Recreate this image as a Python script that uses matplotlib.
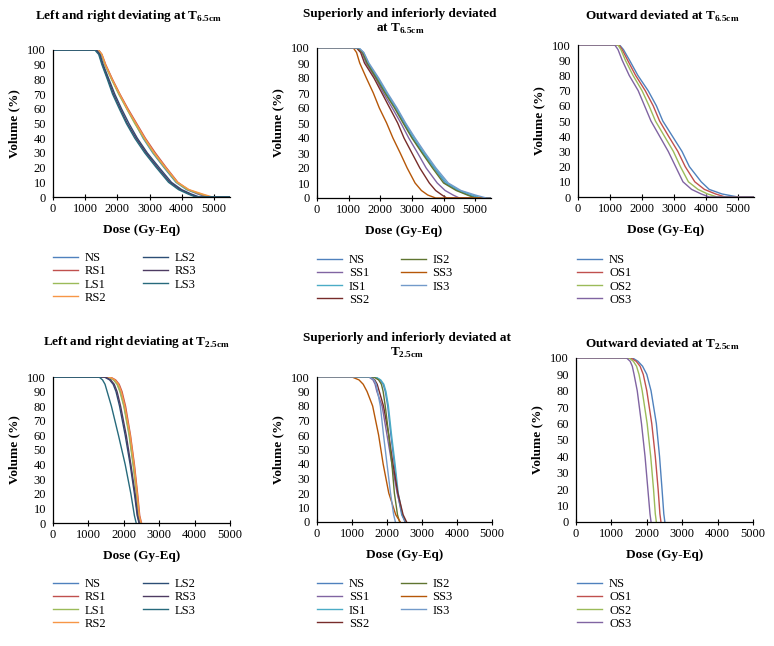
import numpy as np
import matplotlib
matplotlib.use("Agg")
import matplotlib.pyplot as plt

plt.rcParams['font.family'] = ['Liberation Serif', 'DejaVu Serif']
plt.rcParams['mathtext.fontset'] = 'custom'
plt.rcParams['mathtext.rm'] = 'Liberation Serif'
plt.rcParams['mathtext.bf'] = 'Liberation Serif:bold'

# Térfogat szintek (%)
vol_t65 = [100, 100, 97, 90, 80, 70, 60, 50, 40, 30, 20, 10, 5, 2, 0, 0]
vol_t25 = [100, 100, 98, 95, 90, 80, 60, 40, 20, 5, 0]

# Bal / jobb eltérés, T6.5cm
lr65_labels = ["NS", "RS1", "LS1", "RS2", "LS2", "RS3", "LS3"]
lr65_NS  = [0, 1400, 1500, 1620, 1830, 2060, 2300, 2560, 2800, 3100, 3450, 3820, 4150, 4500, 4750, 5500]
lr65_RS1 = [0, 1420, 1520, 1640, 1850, 2080, 2330, 2600, 2870, 3180, 3520, 3880, 4200, 4550, 4850, 5500]
lr65_LS1 = [0, 1400, 1510, 1610, 1820, 2040, 2290, 2540, 2820, 3120, 3470, 3840, 4180, 4600, 4900, 5500]
lr65_RS2 = [0, 1410, 1520, 1630, 1840, 2070, 2310, 2580, 2850, 3150, 3500, 3870, 4230, 4650, 4950, 5500]
lr65_LS2 = [0, 1350, 1460, 1560, 1740, 1920, 2130, 2360, 2620, 2930, 3300, 3680, 4000, 4300, 4550, 5500]
lr65_RS3 = [0, 1330, 1440, 1540, 1710, 1880, 2090, 2310, 2580, 2890, 3250, 3630, 3950, 4250, 4480, 5500]
lr65_LS3 = [0, 1300, 1420, 1520, 1690, 1850, 2060, 2280, 2540, 2850, 3210, 3590, 3900, 4200, 4430, 5500]

# Felső / alsó eltérés, T6.5cm
si65_labels = ["NS", "SS1", "IS1", "SS2", "IS2", "SS3", "IS3"]
si65_NS  = [0, 1300, 1450, 1600, 1900, 2180, 2480, 2750, 3020, 3350, 3700, 4050, 4450, 4800, 5100, 5500]
si65_SS1 = [0, 1280, 1420, 1550, 1850, 2100, 2380, 2650, 2900, 3180, 3450, 3800, 4050, 4300, 4500, 5500]
si65_IS1 = [0, 1320, 1470, 1620, 1920, 2200, 2500, 2780, 3060, 3380, 3720, 4100, 4500, 4900, 5200, 5500]
si65_SS2 = [0, 1250, 1380, 1500, 1800, 2050, 2300, 2550, 2750, 3000, 3250, 3550, 3750, 3950, 4100, 5500]
si65_IS2 = [0, 1300, 1440, 1580, 1870, 2150, 2450, 2720, 3000, 3320, 3650, 4000, 4400, 4750, 5000, 5500]
si65_SS3 = [0, 1150, 1250, 1350, 1560, 1780, 1970, 2200, 2400, 2630, 2850, 3100, 3300, 3500, 3750, 5500]
si65_IS3 = [0, 1330, 1480, 1640, 1950, 2230, 2530, 2800, 3100, 3420, 3760, 4150, 4550, 5000, 5350, 5500]

# Kifelé eltérés, T6.5cm
out65_labels = ["NS", "OS1", "OS2", "OS3"]
out65_NS  = [0, 1300, 1420, 1610, 1870, 2190, 2450, 2650, 2950, 3250, 3480, 3850, 4100, 4500, 5000, 5500]
out65_OS1 = [0, 1280, 1380, 1550, 1800, 2100, 2350, 2550, 2830, 3120, 3350, 3650, 3950, 4300, 4600, 5500]
out65_OS2 = [0, 1250, 1340, 1480, 1720, 2000, 2220, 2420, 2700, 2980, 3200, 3450, 3750, 4050, 4350, 5500]
out65_OS3 = [0, 1150, 1250, 1380, 1600, 1880, 2080, 2280, 2550, 2820, 3050, 3280, 3550, 3850, 4100, 5500]

# Bal / jobb eltérés, T2.5cm
lr25_NS  = [0, 1580, 1720, 1820, 1900, 2010, 2160, 2270, 2370, 2430, 2480]
lr25_RS1 = [0, 1620, 1770, 1870, 1950, 2050, 2190, 2300, 2390, 2450, 2500]
lr25_LS1 = [0, 1570, 1710, 1810, 1890, 2000, 2150, 2260, 2360, 2420, 2470]
lr25_RS2 = [0, 1600, 1750, 1850, 1930, 2030, 2180, 2290, 2380, 2440, 2490]
lr25_LS2 = [0, 1450, 1600, 1700, 1780, 1880, 2040, 2180, 2300, 2380, 2430]
lr25_RS3 = [0, 1480, 1630, 1730, 1810, 1910, 2070, 2200, 2320, 2390, 2440]
lr25_LS3 = [0, 1300, 1400, 1470, 1530, 1650, 1850, 2040, 2200, 2300, 2350]

# Felső / alsó eltérés, T2.5cm
si25_NS  = [0, 1660, 1800, 1890, 1950, 2020, 2110, 2210, 2300, 2420, 2520]
si25_SS1 = [0, 1480, 1600, 1660, 1710, 1860, 2000, 2140, 2290, 2440, 2520]
si25_IS1 = [0, 1680, 1820, 1910, 1970, 2040, 2130, 2230, 2320, 2440, 2540]
si25_SS2 = [0, 1520, 1650, 1720, 1780, 1900, 2050, 2170, 2310, 2460, 2560]
si25_IS2 = [0, 1620, 1760, 1840, 1890, 1950, 2050, 2140, 2210, 2300, 2360]
si25_SS3 = [0, 1000, 1200, 1320, 1430, 1590, 1760, 1890, 2050, 2250, 2380]
si25_IS3 = [0, 1500, 1630, 1690, 1730, 1810, 1900, 2000, 2100, 2190, 2240]

# Kifelé eltérés, T2.5cm
out25_NS  = [0, 1600, 1750, 1880, 2000, 2120, 2270, 2360, 2430, 2480, 2510]
out25_OS1 = [0, 1550, 1700, 1810, 1900, 2000, 2140, 2240, 2320, 2370, 2400]
out25_OS2 = [0, 1500, 1620, 1710, 1780, 1870, 2010, 2110, 2190, 2240, 2270]
out25_OS3 = [0, 1430, 1530, 1590, 1640, 1730, 1850, 1950, 2030, 2090, 2120]

# Színek
lr_colors = ["#4F81BD", "#C0504D", "#9BBB59", "#F79646", "#2C4D75", "#4D3B62", "#276A7C"]
si_colors = ["#4F81BD", "#8064A2", "#4BACC6", "#772C2A", "#5F7530", "#B65708", "#729ACA"]
out_colors = ["#4F81BD", "#C0504D", "#9BBB59", "#8064A2"]

W, H = 774, 646
fig = plt.figure(figsize=(W / 100, H / 100), dpi=100)


def box(x0, x1, ytop, ybot):
    return [x0 / W, 1 - ybot / H, (x1 - x0) / W, (ybot - ytop) / H]


def panel(rect, series, labels, colors, vols, xmax, title, title_xy, leg_xy, ncol, colsp=2.8):
    ax = fig.add_axes(rect)
    for d, lab, c in zip(series, labels, colors):
        ax.plot(d, vols, color=c, lw=1.0, label=lab)
    ax.set_xlim(0, xmax)
    ax.set_ylim(0, 100)
    ax.set_xticks(range(0, 5001, 1000))
    ax.set_yticks(range(0, 101, 10))
    for s in ["top", "right"]:
        ax.spines[s].set_visible(False)
    for s in ["left", "bottom"]:
        ax.spines[s].set_linewidth(0.9)
    ax.tick_params(axis="x", direction="inout", length=4, width=0.8, labelsize=9, pad=2)
    ax.tick_params(axis="y", length=0, labelsize=9, pad=5)
    ax.set_ylabel("Volume (%)", fontsize=9.5, fontweight="bold")
    ax.yaxis.set_label_coords(-33 / (rect[2] * W), 0.5)
    ax.set_xlabel("Dose (Gy-Eq)", fontsize=9.5, fontweight="bold", labelpad=7)
    fig.text(title_xy[0] / W, 1 - title_xy[1] / H, title, fontsize=9.5, fontweight="bold",
             ha="center", va="center", linespacing=1.2)
    fig.legend(*ax.get_legend_handles_labels(), loc="upper left",
               bbox_to_anchor=(leg_xy[0] / W, 1 - leg_xy[1] / H), ncol=ncol,
               frameon=False, fontsize=9, borderpad=0, borderaxespad=0,
               handlelength=2.0, handletextpad=0.56, labelspacing=0.1, columnspacing=colsp)
    return ax


t65 = r"$_{\mathbf{6.5cm}}$"
t25 = r"$_{\mathbf{2.5cm}}$"

panel(box(53, 230, 50, 197),
      [lr65_NS, lr65_RS1, lr65_LS1, lr65_RS2, lr65_LS2, lr65_RS3, lr65_LS3],
      lr65_labels, lr_colors, vol_t65, 5500,
      "Left and right deviating at T" + t65, (128, 16), (53, 252), 2, 2.9)
panel(box(317, 491, 48, 198),
      [si65_NS, si65_SS1, si65_IS1, si65_SS2, si65_IS2, si65_SS3, si65_IS3],
      si65_labels, si_colors, vol_t65, 5500,
      "Superiorly and inferiorly deviated\nat T" + t65, (400, 22), (317, 254), 2, 2.5)
panel(box(578, 754, 45, 197),
      [out65_NS, out65_OS1, out65_OS2, out65_OS3],
      out65_labels, out_colors, vol_t65, 5500,
      "Outward deviated at T" + t65, (662, 16), (577, 254), 1)

panel(box(53, 230, 377, 523),
      [lr25_NS, lr25_RS1, lr25_LS1, lr25_RS2, lr25_LS2, lr25_RS3, lr25_LS3],
      lr65_labels, lr_colors, vol_t25, 5000,
      "Left and right deviating at T" + t25, (136, 342), (53, 578), 2, 2.9)
panel(box(317, 492, 377, 522),
      [si25_NS, si25_SS1, si25_IS1, si25_SS2, si25_IS2, si25_SS3, si25_IS3],
      si65_labels, si_colors, vol_t25, 5000,
      "Superiorly and inferiorly deviated at\nT" + t25, (407, 346), (317, 578), 2, 2.5)
panel(box(576, 753, 358, 522),
      [out25_NS, out25_OS1, out25_OS2, out25_OS3],
      out65_labels, out_colors, vol_t25, 5000,
      "Outward deviated at T" + t25, (662, 344), (577, 578), 1)

fig.savefig("out.png", dpi=100)
